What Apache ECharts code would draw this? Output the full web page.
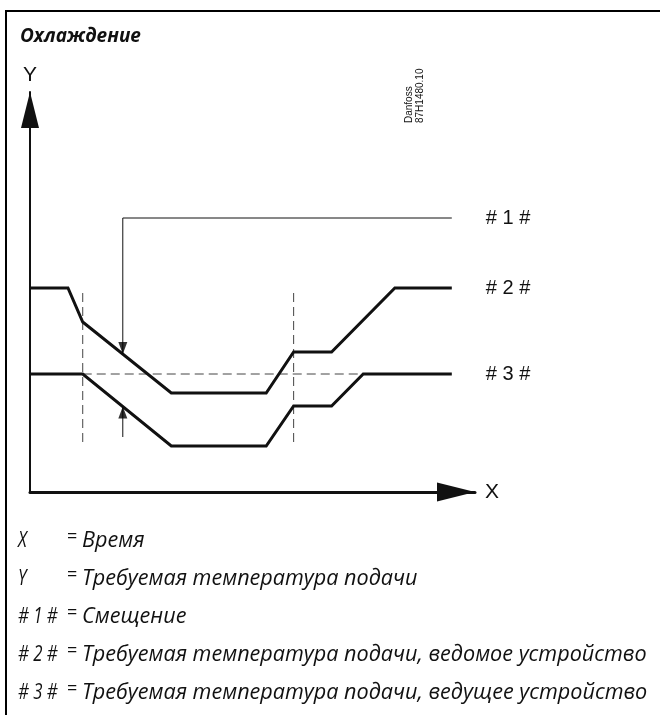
<!DOCTYPE html>
<html><head><meta charset="utf-8">
<script src="https://cdn.jsdelivr.net/npm/echarts@6/dist/echarts.min.js"></script>
<style>html,body{margin:0;padding:0;background:#fff}#c{width:660px;height:715px}</style>
</head><body><div id="c"></div><script>
const titleText = 'Охлаждение';
const docCode = 'Danfoss\n87H1480.10';
// Curve #2 (slave desired flow temperature)
const line2X = [0, 9, 12.5, 33.5, 56, 62.5, 71.5, 86.5, 100];
const line2Y = [51, 51, 42.5, 24.75, 24.75, 35, 35, 51, 51];
// Curve #3 (master desired flow temperature)
const line3X = [0, 12.5, 33.5, 56, 62.5, 71.5, 79, 100];
const line3Y = [29.5, 29.5, 11.5, 11.5, 21.5, 21.5, 29.5, 29.5];
// Offset indicator #1
const offsetX = [22, 22, 100];
const offsetY = [34.5, 68.5, 68.5];
const offsetLowX = [22, 22];
const offsetLowY = [13.75, 21.4];
// dashed reference lines
const refLevelX = [12.5, 79];
const refLevelY = [29.5, 29.5];
const markerX = [12.5, 62.5];
const markerYRange = [12.5, 51];
const seriesNames = ['# 1 #', '# 2 #', '# 3 #'];
const axisNames = ['X', 'Y'];
const legendKeys = ['X', 'Y', '# 1 #', '# 2 #', '# 3 #'];
const legendTexts = ['Время', 'Требуемая температура подачи', 'Смещение',
  'Требуемая температура подачи, ведомое устройство',
  'Требуемая температура подачи, ведущее устройство'];
const legendRowY = [541, 579, 617, 655, 693];

const zip = (xs, ys) => xs.map((x, i) => [x, ys[i]]);
const chart = echarts.init(document.getElementById('c'));
const ink = '#111';
const sansFont = 'Liberation Sans';
const italicFont = 'Open Sans';

const legendGraphics = [];
legendKeys.forEach((k, i) => {
  legendGraphics.push({type: 'text', x: 18, y: legendRowY[i], scaleX: 0.8, style: {text: k, font: 'italic 21px "' + italicFont + '"', fill: ink, verticalAlign: 'middle', align: 'left'}});
  legendGraphics.push({type: 'text', x: 67, y: legendRowY[i] - 4, style: {text: '=', font: '18px "' + italicFont + '"', fill: ink, verticalAlign: 'middle', align: 'left'}});
  legendGraphics.push({type: 'text', x: 82, y: legendRowY[i], style: {text: legendTexts[i], font: 'italic 21.6px "' + italicFont + '"', fill: ink, verticalAlign: 'middle', align: 'left'}});
});

const dashStyle = {color: '#444', width: 1, type: [9, 5]};
const endLab = (name) => ({show: true, formatter: () => name, distance: 34, color: ink, fontFamily: sansFont, fontSize: 20});

chart.setOption({
  animation: false,
  backgroundColor: '#fff',
  title: {text: titleText, left: 15, top: 22, textStyle: {fontFamily: italicFont, fontStyle: 'italic', fontWeight: 'bold', fontSize: 19, color: ink}},
  grid: {left: 30, right: 185, top: 92, bottom: 223, outerBoundsMode: 'none', containLabel: false},
  xAxis: {type: 'value', min: 0, max: 105.5, name: axisNames[0], nameLocation: 'end', nameGap: 10,
    nameTextStyle: {fontFamily: sansFont, fontSize: 21, color: ink, verticalAlign: 'middle', align: 'left'},
    axisLine: {show: true, onZero: false, symbol: ['none', 'triangle'], symbolSize: [19, 38], symbolOffset: [0, -19], lineStyle: {color: ink, width: 3}},
    axisTick: {show: false}, axisLabel: {show: false}, splitLine: {show: false}},
  yAxis: {type: 'value', min: 0, max: 100, name: axisNames[1], nameLocation: 'end', nameGap: 6,
    nameTextStyle: {fontFamily: sansFont, fontSize: 21, color: ink},
    axisLine: {show: true, onZero: false, symbol: ['none', 'triangle'], symbolSize: [18, 36], symbolOffset: [0, -18], lineStyle: {color: ink, width: 2}},
    axisTick: {show: false}, axisLabel: {show: false}, splitLine: {show: false}},
  graphic: [
    {type: 'polyline', shape: {points: [[6, 800], [6, 11], [800, 11]]}, style: {stroke: '#000', lineWidth: 2, fill: null}},
    {type: 'text', x: 404, y: 123, rotation: Math.PI / 2, style: {text: docCode, font: '10px "' + sansFont + '"', lineHeight: 11, fill: ink, align: 'left', verticalAlign: 'top'}}
  ].concat(legendGraphics),
  series: [
    {type: 'line', data: zip(refLevelX, refLevelY), symbol: 'none', lineStyle: dashStyle, silent: true, z: 1},
    {type: 'line', data: [[markerX[0], markerYRange[0]], [markerX[0], markerYRange[1]]], symbol: 'none', lineStyle: dashStyle, silent: true, z: 1},
    {type: 'line', data: [[markerX[1], markerYRange[0]], [markerX[1], markerYRange[1]]], symbol: 'none', lineStyle: dashStyle, silent: true, z: 1},
    {type: 'line', name: seriesNames[2], data: zip(line3X, line3Y), symbol: 'none', lineStyle: {color: ink, width: 3, join: 'miter'}, endLabel: endLab(seriesNames[2]), z: 3},
    {type: 'line', name: seriesNames[1], data: zip(line2X, line2Y), symbol: 'none', lineStyle: {color: ink, width: 3, join: 'miter'}, endLabel: endLab(seriesNames[1]), z: 3},
    {type: 'line', name: seriesNames[0], data: zip(offsetX, offsetY), symbol: 'none', lineStyle: {color: ink, width: 1}, endLabel: endLab(seriesNames[0]), z: 2},
    {type: 'line', data: zip(offsetLowX, offsetLowY), symbol: 'none', lineStyle: {color: ink, width: 1}, z: 2},
    {type: 'scatter', symbol: 'triangle', symbolSize: [9, 12], itemStyle: {color: '#000'}, z: 4,
      data: [{value: [offsetX[0], offsetY[0]], symbolRotate: 180, symbolOffset: [0, -6]},
             {value: [offsetLowX[1], offsetLowY[1]], symbolOffset: [0, 6]}]}
  ]
});
</script></body></html>
